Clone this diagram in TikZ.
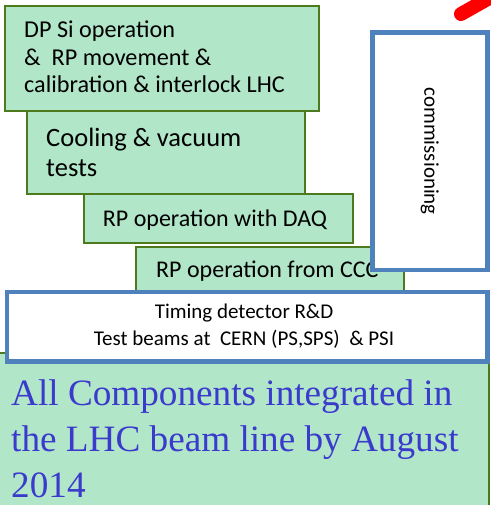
\documentclass[tikz,border=0pt]{standalone}
\usepackage{fontspec}
\setmainfont{Carlito}
\newfontfamily\serifblue{Liberation Serif}
\definecolor{mint}{RGB}{178,230,200}
\definecolor{leaf}{RGB}{78,122,30}
\definecolor{office}{RGB}{79,129,189}
\definecolor{inkblue}{RGB}{58,58,205}
\begin{document}
\begin{tikzpicture}[x=1pt,y=-1pt,
  greenbox/.style={draw=leaf,fill=mint,line width=2pt,inner sep=0pt,anchor=north west},
  bluebox/.style={draw=office,fill=white,line width=4.5pt,inner sep=0pt,anchor=north west},
  label/.style={inner sep=0pt,text=black}]
\useasboundingbox (0,0) rectangle (490,505);

% milestone panel at the bottom (base anchor = last line)
\node[greenbox,minimum width=493pt,minimum height=170pt] (goal) at (-5,352) {};
\node[label,anchor=base west,align=left,text=inkblue,font=\serifblue\fontsize{37.2}{46}\selectfont]
  (goaltxt) at (11,497) {All Components integrated in\\the LHC beam line by August\\2014};

% staircase of green tasks
\node[greenbox,minimum width=314pt,minimum height=105pt] (b1) at (4,5) {};
\node[label,anchor=base west,align=left,font=\fontsize{24.2}{27.5}\selectfont]
  (t1) at (24,93) {DP Si operation\\\&\ \ RP movement \&\\calibration \& interlock LHC};

\node[greenbox,minimum width=278pt,minimum height=83pt] (b2) at (26,110) {};
\node[label,anchor=base west,align=left,font=\fontsize{26.5}{30}\selectfont]
  (t2) at (46,176) {Cooling \& vacuum\\tests};

\node[greenbox,minimum width=269pt,minimum height=49pt] (b3) at (83,193) {};
\node[label,anchor=base,font=\fontsize{24}{28}\selectfont]
  (t3) at (215,226) {RP operation with DAQ};

\node[greenbox,minimum width=268pt,minimum height=50pt] (b4) at (135,246) {};
\node[label,anchor=base west,font=\fontsize{24}{28}\selectfont]
  (t4) at (156,277) {RP operation from CCC};

% commissioning column
\node[bluebox,minimum width=115pt,minimum height=237pt] (comm) at (370,30.5) {};
\node[label,rotate=-90,font=\fontsize{21}{25}\selectfont] (commtxt) at (comm.center) {commissioning};

% timing detector band
\node[bluebox,minimum width=480.5pt,minimum height=69.5pt] (timing) at (4.5,289.5) {};
\node[label,anchor=base,align=center,font=\fontsize{21}{27}\selectfont]
  (timtxt) at (244,345) {Timing detector R\&D\\Test beams at\ \ CERN (PS,SPS)\ \ \& PSI};

% red mark in the corner
\coordinate (mA) at (461,14);
\coordinate (mB) at (500,-8);
\draw[red,line width=14pt,line cap=round] (mA) -- (mB);
\end{tikzpicture}
\end{document}
